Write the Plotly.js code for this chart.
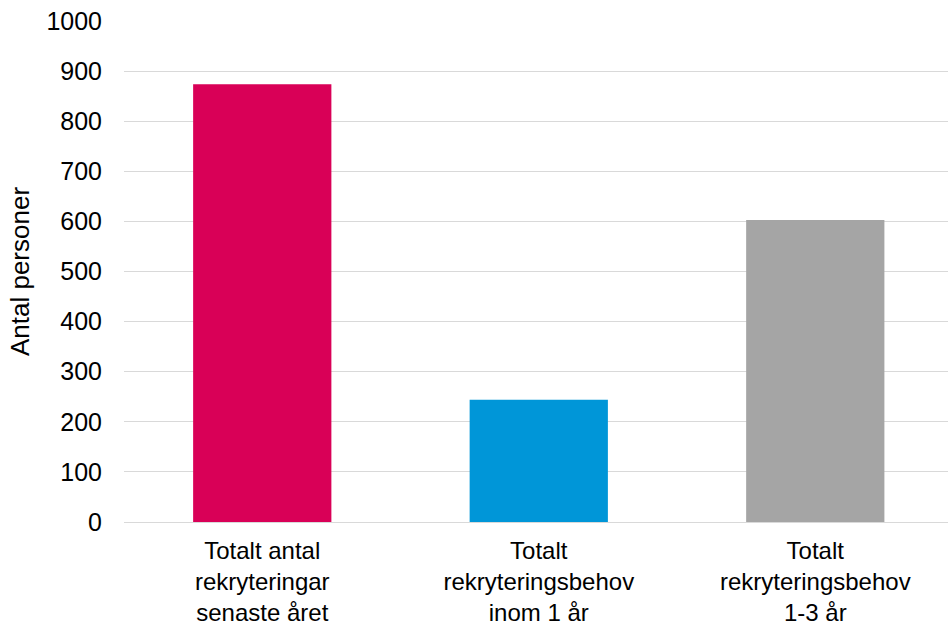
<!DOCTYPE html>
<html>
<head>
<meta charset="utf-8">
<script src="https://cdn.plot.ly/plotly-3.0.1.min.js"></script>
<style>
  html, body { margin: 0; padding: 0; background: #fff; }
  #chart { width: 948px; height: 627px; }
</style>
</head>
<body>
<div id="chart"></div>
<script>
// Rekryteringar och rekryteringsbehov (antal personer)
const categories = [
  "Totalt antal<br>rekryteringar<br>senaste året",
  "Totalt<br>rekryteringsbehov<br>inom 1 år",
  "Totalt<br>rekryteringsbehov<br>1-3 år"
];
const values = [874, 244, 603];
const barColors = ["#D90057", "#0096D8", "#A5A5A5"];
const yTicks = [0, 100, 200, 300, 400, 500, 600, 700, 800, 900, 1000];

const trace = {
  type: "bar",
  x: [0, 1, 2],
  y: values,
  marker: { color: barColors },
  hoverinfo: "y"
};

const layout = {
  width: 948,
  height: 627,
  margin: { l: 124, r: 0, t: 21, b: 105 },
  paper_bgcolor: "#fff",
  plot_bgcolor: "#fff",
  bargap: 0.5,
  showlegend: false,
  font: { family: "Liberation Sans, Arial, sans-serif", color: "#000" },
  xaxis: {
    range: [-0.5, 2.48],
    tickmode: "array",
    tickvals: [0, 1, 2],
    ticktext: categories,
    tickfont: { size: 24, color: "#000" },
    showgrid: false,
    zeroline: false,
    showline: true,
    linecolor: "#D9D9D9",
    linewidth: 1,
    ticks: "",
    ticklabelstandoff: 7,
    automargin: false
  },
  yaxis: {
    range: [0, 1000],
    tickmode: "array",
    tickvals: yTicks,
    ticktext: yTicks.map(String),
    tickfont: { size: 25, color: "#000" },
    showgrid: true,
    gridcolor: "#D9D9D9",
    gridwidth: 1,
    zeroline: false,
    showline: false,
    ticks: "",
    ticklabelstandoff: 21,
    automargin: false,
    title: { text: "Antal personer", font: { size: 26, color: "#000" }, standoff: 9 }
  }
};

Plotly.newPlot("chart", [trace], layout, { staticPlot: true, displayModeBar: false });
</script>
</body>
</html>
